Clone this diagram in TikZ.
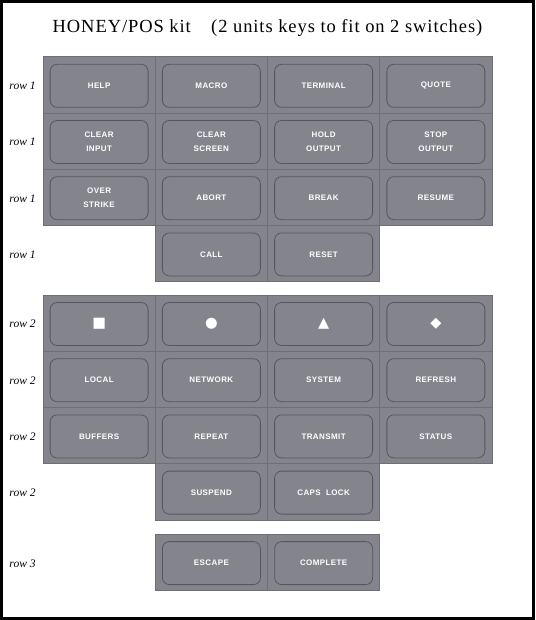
\documentclass[tikz,border=0pt]{standalone}
\usepackage{fontspec}
\setmainfont{Liberation Serif}
\newfontfamily\titlefont[LetterSpace=5]{Liberation Serif}
\newfontfamily\keyfont[LetterSpace=5]{Liberation Sans}
\newfontfamily\symfont{DejaVu Sans}
\usetikzlibrary{positioning}

\definecolor{keygray}{HTML}{84848C}
\definecolor{keyedge}{HTML}{56565D}
\definecolor{gridline}{HTML}{6E6E76}

\begin{document}
\begin{tikzpicture}[x=1pt,y=1pt,node distance=0pt,
  cell/.style={draw=gridline,line width=0.8pt,fill=keygray,minimum width=112.25pt,minimum height=56.2pt,outer sep=0pt,inner sep=0pt},
  keybox/.style={draw=keyedge,line width=0.8pt,rounded corners=7pt,minimum width=98pt,minimum height=43pt,align=center,text=white,yshift=-0.8pt,font=\keyfont\bfseries\fontsize{8}{14}\selectfont},
  symkey/.style={keybox,font=\symfont\fontsize{14.5}{16}\selectfont},
  rowlabel/.style={font=\itshape\fontsize{11.5}{13}\selectfont}]
  \useasboundingbox (0,0) rectangle (535,-620);
  \draw[line width=2.6pt] (1.3,-1.3) rectangle (533.2,-618.2);
  \node[font=\titlefont\fontsize{18.5}{21}\selectfont] (title) at (267.5,-28) {HONEY/POS kit\hspace{1.1em}(2 units keys to fit on 2 switches)};

  % block 1
  \node[cell] (a1) at (99.1,-85) {};
  \node[cell,right=of a1] (a2) {};
  \node[cell,right=of a2] (a3) {};
  \node[cell,right=of a3] (a4) {};
  \node[cell,below=of a1] (b1) {};
  \node[cell,right=of b1] (b2) {};
  \node[cell,right=of b2] (b3) {};
  \node[cell,right=of b3] (b4) {};
  \node[cell,below=of b1] (c1) {};
  \node[cell,right=of c1] (c2) {};
  \node[cell,right=of c2] (c3) {};
  \node[cell,right=of c3] (c4) {};
  \node[cell,below=of c2] (d2) {};
  \node[cell,right=of d2] (d3) {};
  \node[keybox] at (a1) {HELP};
  \node[keybox] at (a2) {MACRO};
  \node[keybox] at (a3) {TERMINAL};
  \node[keybox] at (a4) {QUOTE};
  \node[keybox] at (b1) {CLEAR\\INPUT};
  \node[keybox] at (b2) {CLEAR\\SCREEN};
  \node[keybox] at (b3) {HOLD\\OUTPUT};
  \node[keybox] at (b4) {STOP\\OUTPUT};
  \node[keybox] at (c1) {OVER\\STRIKE};
  \node[keybox] at (c2) {ABORT};
  \node[keybox] at (c3) {BREAK};
  \node[keybox] at (c4) {RESUME};
  \node[keybox] at (d2) {CALL};
  \node[keybox] at (d3) {RESET};

  % block 2
  \node[cell] (e1) at (99.1,-323.2) {};
  \node[cell,right=of e1] (e2) {};
  \node[cell,right=of e2] (e3) {};
  \node[cell,right=of e3] (e4) {};
  \node[cell,below=of e1] (f1) {};
  \node[cell,right=of f1] (f2) {};
  \node[cell,right=of f2] (f3) {};
  \node[cell,right=of f3] (f4) {};
  \node[cell,below=of f1] (g1) {};
  \node[cell,right=of g1] (g2) {};
  \node[cell,right=of g2] (g3) {};
  \node[cell,right=of g3] (g4) {};
  \node[cell,below=of g2] (h2) {};
  \node[cell,right=of h2] (h3) {};
  \node[symkey] at (e1) {■};
  \node[symkey] at (e2) {●};
  \node[symkey] at (e3) {▲};
  \node[symkey] at (e4) {◆};
  \node[keybox] at (f1) {LOCAL};
  \node[keybox] at (f2) {NETWORK};
  \node[keybox] at (f3) {SYSTEM};
  \node[keybox] at (f4) {REFRESH};
  \node[keybox] at (g1) {BUFFERS};
  \node[keybox] at (g2) {REPEAT};
  \node[keybox] at (g3) {TRANSMIT};
  \node[keybox] at (g4) {STATUS};
  \node[keybox] at (h2) {SUSPEND};
  \node[keybox] at (h3) {CAPS\ \ LOCK};

  % block 3
  \node[cell] (k2) at (211.4,-562.3) {};
  \node[cell,right=of k2] (k3) {};
  \node[keybox] at (k2) {ESCAPE};
  \node[keybox] at (k3) {COMPLETE};

  % row labels
  \node[rowlabel] (la) at (22.5,-86) {row 1};
  \node[rowlabel] (lb) at (22.5,-142.2) {row 1};
  \node[rowlabel] (lc) at (22.5,-198.4) {row 1};
  \node[rowlabel] (ld) at (22.5,-254.6) {row 1};
  \node[rowlabel] (le) at (22.5,-324.2) {row 2};
  \node[rowlabel] (lf) at (22.5,-380.4) {row 2};
  \node[rowlabel] (lg) at (22.5,-436.6) {row 2};
  \node[rowlabel] (lh) at (22.5,-492.8) {row 2};
  \node[rowlabel] (lk) at (22.5,-563.3) {row 3};
\end{tikzpicture}
\end{document}
